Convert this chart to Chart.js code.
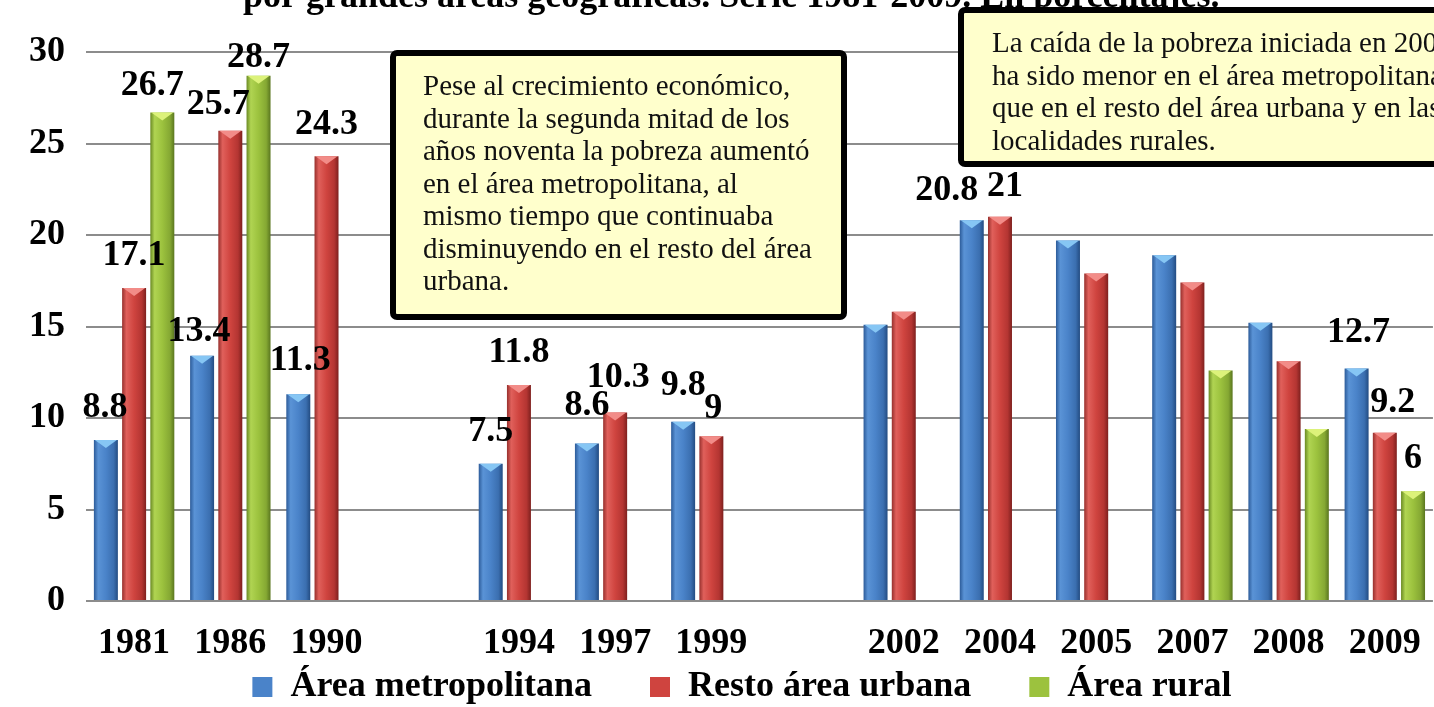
<!DOCTYPE html>
<html>
<head>
<meta charset="utf-8">
<script src="https://cdn.jsdelivr.net/npm/chart.js@4.4.0/dist/chart.umd.min.js"></script>
<style>
  html, body { margin: 0; padding: 0; background: #fff; overflow: hidden; }
  #wrap { width: 1442px; height: 707px; }
</style>
</head>
<body>
<div id="wrap"><canvas id="povertyChart" width="1442" height="707"></canvas></div>
<script>
// categories ('' = empty slot on the axis)
const years = ['1981', '1986', '1990', '', '1994', '1997', '1999', '', '2002', '2004', '2005', '2007', '2008', '2009'];
// series values, %
const metroValues = [8.8, 13.4, 11.3, null, 7.5, 8.6, 9.8, null, 15.1, 20.8, 19.7, 18.9, 15.2, 12.7];
const urbanValues = [17.1, 25.7, 24.3, null, 11.8, 10.3, 9, null, 15.8, 21, 17.9, 17.4, 13.1, 9.2];
const ruralValues = [26.7, 28.7, null, null, null, null, null, null, null, null, null, 12.6, 9.4, 6];
const seriesNames = ['Área metropolitana', 'Resto área urbana', 'Área rural'];
const yTicks = [0, 5, 10, 15, 20, 25, 30];
// years whose bars carry a value label
const labeledYears = ['1981', '1986', '1990', '1994', '1997', '1999', '2004', '2009'];

const titleText = 'por grandes áreas geográficas. Serie 1981-2009. En porcentajes.';
const note1 = ['Pese al crecimiento económico,', 'durante la segunda mitad de los', 'años noventa la pobreza aumentó',
    'en el área metropolitana, al', 'mismo tiempo que continuaba', 'disminuyendo en el resto del área', 'urbana.'];
const note2 = ['La caída de la pobreza iniciada en 2004', 'ha sido menor en el área metropolitana',
    'que en el resto del área urbana y en las', 'localidades rurales.'];

const serif = '"Liberation Serif", "Times New Roman", serif';
const seriesColors = ['#4A83C9', '#CF443F', '#9CC23E'];
const shades = [
    ['#2C5B99', '#5A93D6', '#4A83C9', '#3B6FB0', '#234C82'],
    ['#97302D', '#E0605B', '#CF443F', '#B43532', '#7E201E'],
    ['#6A8A24', '#B0D452', '#9CC23E', '#85A833', '#5A761F']
];
const shadeStops = [0, 0.18, 0.5, 0.82, 1];
const capColors = ['#86C6F4', '#F28C88', '#DCF27A'];

// label offsets from the default spot above the bar [dx, dy]
const labelNudge = {
    '0-1981': [-1, 0], '2-1981': [-10, 5], '0-1986': [-3, 8], '1-1986': [-12, 6], '2-1986': [0, 14],
    '0-1990': [2, -2], '0-1997': [0, -6], '1-1997': [3, -3], '0-1999': [0, -4], '1-1999': [2, 4],
    '0-2004': [-25, 2], '1-2004': [5, 2], '0-2009': [2, -4], '1-2009': [8, 2]
};

const barShade = {
    id: 'barShade',
    beforeDatasetsDraw(chart) {
        const ctx = chart.ctx;
        chart.data.datasets.forEach((ds, i) => {
            chart.getDatasetMeta(i).data.forEach(bar => {
                if (isNaN(bar.y) || isNaN(bar.x)) return;
                const x0 = bar.x - bar.width / 2;
                const g = ctx.createLinearGradient(x0, 0, x0 + bar.width, 0);
                shades[i].forEach((c, k) => g.addColorStop(shadeStops[k], c));
                bar.options = Object.assign({}, bar.options, { backgroundColor: g });
            });
        });
    },
    afterDatasetsDraw(chart) {
        const ctx = chart.ctx;
        ctx.save();
        chart.data.datasets.forEach((ds, i) => {
            chart.getDatasetMeta(i).data.forEach((bar, j) => {
                if (ds.data[j] == null || isNaN(bar.y)) return;
                const x0 = bar.x - bar.width / 2, x1 = bar.x + bar.width / 2;
                ctx.fillStyle = capColors[i];
                ctx.beginPath();
                ctx.moveTo(x0 + 1, bar.y);
                ctx.lineTo(x1 - 1, bar.y);
                ctx.lineTo(bar.x, bar.y + 8);
                ctx.closePath();
                ctx.fill();
            });
        });
        // value labels
        ctx.font = 'bold 36px ' + serif;
        ctx.fillStyle = '#000';
        ctx.textAlign = 'center';
        ctx.textBaseline = 'middle';
        chart.data.datasets.forEach((ds, i) => {
            chart.getDatasetMeta(i).data.forEach((bar, j) => {
                const v = ds.data[j];
                if (v == null || !labeledYears.includes(years[j])) return;
                const n = labelNudge[i + '-' + years[j]] || [0, 0];
                ctx.fillText(String(v), bar.x + n[0], bar.y - 32 + n[1]);
            });
        });
        ctx.restore();
    }
};

function noteBox(ctx, x, y, w, h, lines, textX, firstBase) {
    ctx.save();
    ctx.beginPath();
    ctx.roundRect(x, y, w, h, 4);
    ctx.fillStyle = '#FFFFCC';
    ctx.fill();
    ctx.lineWidth = 6;
    ctx.strokeStyle = '#000';
    ctx.stroke();
    ctx.font = '29px ' + serif;
    ctx.fillStyle = '#111';
    ctx.textAlign = 'left';
    ctx.textBaseline = 'alphabetic';
    lines.forEach((t, k) => ctx.fillText(t, textX, firstBase + k * 32.5));
    ctx.restore();
}

const notes = {
    id: 'notes',
    afterUpdate(chart) {
        // place the legend row where the original has it
        const lg = chart.legend;
        if (!lg || !lg.legendHitBoxes || !lg.legendHitBoxes.length) return;
        const hb = lg.legendHitBoxes;
        const dx = 650 - hb[1].left;
        const dy = 687 - (hb[0].top + hb[0].height / 2);
        lg.left += dx; lg.right += dx;
        lg.top += dy;
        lg.bottom = chart.height;
        lg.adjustHitBoxes();
    },
    afterDraw(chart) {
        const ctx = chart.ctx;
        ctx.save();
        ctx.font = 'bold 36px ' + serif;
        ctx.fillStyle = '#000';
        ctx.textAlign = 'left';
        ctx.textBaseline = 'alphabetic';
        ctx.fillText(titleText, 243, 7);
        ctx.restore();
        noteBox(ctx, 393, 53, 451, 264, note1, 423, 95);
        noteBox(ctx, 961, 10, 520, 154, note2, 992, 52);
    }
};

new Chart(document.getElementById('povertyChart'), {
    type: 'bar',
    data: {
        labels: years,
        datasets: [
            { label: seriesNames[0], data: metroValues, backgroundColor: seriesColors[0] },
            { label: seriesNames[1], data: urbanValues, backgroundColor: seriesColors[1] },
            { label: seriesNames[2], data: ruralValues, backgroundColor: seriesColors[2] }
        ]
    },
    options: {
        responsive: false,
        animation: false,
        events: [],
        layout: { padding: { top: 52, right: 5, left: 0, bottom: 0 } },
        datasets: {
            bar: {
                borderWidth: 0,
                barPercentage: 0.85,
                categoryPercentage: 0.88
            }
        },
        scales: {
            x: {
                grid: { display: false, drawTicks: false },
                border: { display: false },
                ticks: {
                    color: '#000',
                    font: { family: serif, size: 36, weight: 'bold' },
                    padding: 21,
                    autoSkip: false,
                    maxRotation: 0
                },
                afterFit(scale) {
                    scale.height = 60;
                }
            },
            y: {
                min: 0,
                max: 30,
                afterBuildTicks(scale) {
                    scale.ticks = yTicks.map(v => ({ value: v }));
                },
                grid: { color: '#8C8C8C', lineWidth: 2, drawTicks: false },
                border: { display: false },
                ticks: {
                    color: '#000',
                    font: { family: serif, size: 36, weight: 'bold' },
                    padding: 21
                },
                afterFit(scale) {
                    scale.width = 86;
                }
            }
        },
        plugins: {
            colors: { enabled: false },
            title: { display: false },
            tooltip: { enabled: false },
            legend: {
                position: 'bottom',
                maxHeight: 46,
                labels: {
                    color: '#000',
                    font: { family: serif, size: 36, weight: 'bold' },
                    boxWidth: 20,
                    boxHeight: 20,
                    padding: 58
                }
            }
        }
    },
    plugins: [barShade, notes]
});
</script>
</body>
</html>
